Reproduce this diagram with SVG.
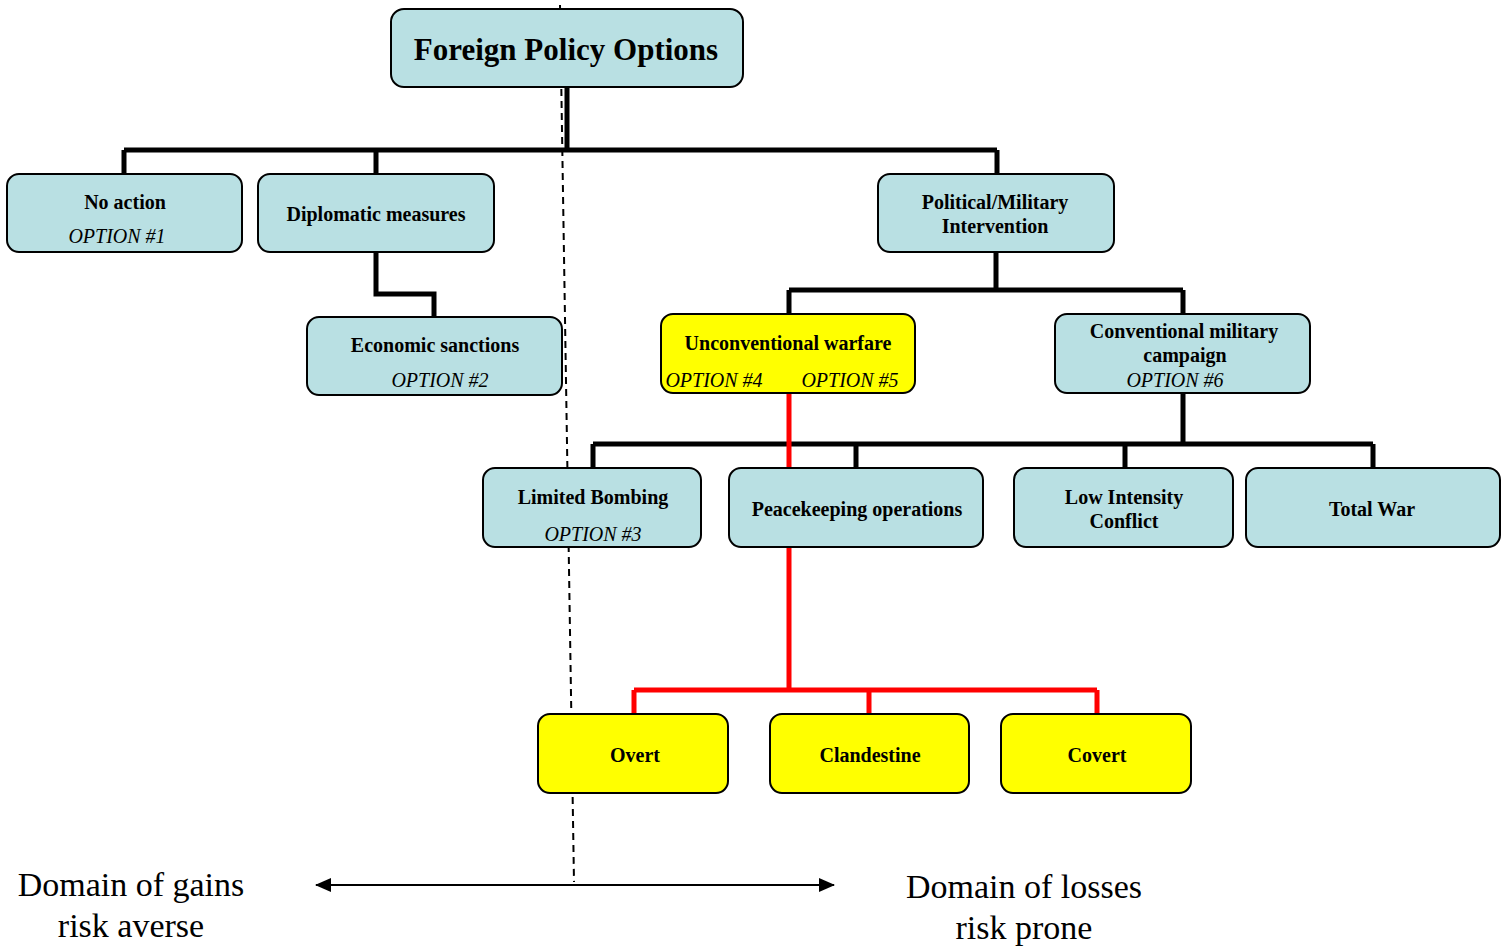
<svg xmlns="http://www.w3.org/2000/svg" width="1502" height="948" viewBox="0 0 1502 948">
<defs>
<style>
.b{fill:#b9e0e3;stroke:#000;stroke-width:2}
.y{fill:#ffff00;stroke:#000;stroke-width:2}
.t{font-family:"Liberation Serif","Times New Roman",serif;font-weight:bold;font-size:20px;fill:#000;text-anchor:middle}
.o{font-family:"Liberation Serif","Times New Roman",serif;font-style:italic;font-size:20px;fill:#000;text-anchor:middle}
.d{font-family:"Liberation Serif","Times New Roman",serif;font-size:34px;fill:#000;text-anchor:middle}
.k{fill:none;stroke:#000;stroke-width:5}
.r{fill:none;stroke:#ff0000;stroke-width:5}
</style>
<marker id="ah" viewBox="0 0 16 14" refX="15" refY="7" markerWidth="16" markerHeight="14" markerUnits="userSpaceOnUse" orient="auto-start-reverse">
<path d="M0,0 L16,7 L0,14 z" fill="#000"/>
</marker>
</defs>
<rect width="1502" height="948" fill="#fff"/>
<line x1="560" y1="5" x2="574" y2="882" stroke="#000" stroke-width="2" stroke-dasharray="7,5"/>
<g id="connectors">
<path class="k" d="M567,87 V150 M124,150 H997 M124,150 V174 M376,150 V174 M997,150 V174"/>
<path class="k" d="M376,252 V294 H434 V317"/>
<path class="k" d="M996,252 V290 M789,290 H1183 M789,290 V314 M1183,290 V314"/>
<path class="k" d="M1183,393 V444 M593,444 H1373 M593,444 V468 M856,444 V468 M1125,444 V468 M1373,444 V468"/>
<path class="r" d="M789,393 V468 M789,547 V690 M634,690 H1097 M634,690 V714 M869,690 V714 M1097,690 V714"/>
<line x1="316" y1="885" x2="834" y2="885" stroke="#000" stroke-width="2" marker-start="url(#ah)" marker-end="url(#ah)"/>
</g>
<g id="root"><rect class="b" x="391" y="9" width="352" height="78" rx="13"/><text class="t" x="566" y="60" style="font-size:31px">Foreign Policy Options</text></g>
<g id="noaction"><rect class="b" x="7" y="174" width="235" height="78" rx="12"/><text class="t" x="125" y="209">No action</text><text class="o" x="117" y="243">OPTION #1</text></g>
<g id="diplomatic"><rect class="b" x="258" y="174" width="236" height="78" rx="12"/><text class="t" x="376" y="221">Diplomatic measures</text></g>
<g id="economic"><rect class="b" x="307" y="317" width="255" height="78" rx="12"/><text class="t" x="435" y="352">Economic sanctions</text><text class="o" x="440" y="387">OPTION #2</text></g>
<g id="polmil"><rect class="b" x="878" y="174" width="236" height="78" rx="12"/><text class="t" x="995" y="209">Political/Military</text><text class="t" x="995" y="233">Intervention</text></g>
<g id="unconventional"><rect class="y" x="661" y="314" width="254" height="79" rx="12"/><text class="t" x="788" y="350">Unconventional warfare</text><text class="o" x="714" y="387">OPTION #4</text><text class="o" x="850" y="387">OPTION #5</text></g>
<g id="conventional"><rect class="b" x="1055" y="314" width="255" height="79" rx="12"/><text class="t" x="1184" y="338">Conventional military</text><text class="t" x="1185" y="362">campaign</text><text class="o" x="1175" y="387">OPTION #6</text></g>
<g id="limited"><rect class="b" x="483" y="468" width="218" height="79" rx="12"/><text class="t" x="593" y="504">Limited Bombing</text><text class="o" x="593" y="541">OPTION #3</text></g>
<g id="peacekeeping"><rect class="b" x="729" y="468" width="254" height="79" rx="12"/><text class="t" x="857" y="516">Peacekeeping operations</text></g>
<g id="lowintensity"><rect class="b" x="1014" y="468" width="219" height="79" rx="12"/><text class="t" x="1124" y="504">Low Intensity</text><text class="t" x="1124" y="528">Conflict</text></g>
<g id="totalwar"><rect class="b" x="1246" y="468" width="254" height="79" rx="12"/><text class="t" x="1372" y="516">Total War</text></g>
<g id="overt"><rect class="y" x="538" y="714" width="190" height="79" rx="12"/><text class="t" x="635" y="762">Overt</text></g>
<g id="clandestine"><rect class="y" x="770" y="714" width="199" height="79" rx="12"/><text class="t" x="870" y="762">Clandestine</text></g>
<g id="covert"><rect class="y" x="1001" y="714" width="190" height="79" rx="12"/><text class="t" x="1097" y="762">Covert</text></g>
<g id="labels">
<text class="d" x="131" y="896">Domain of gains</text>
<text class="d" x="131" y="937">risk averse</text>
<text class="d" x="1024" y="898">Domain of losses</text>
<text class="d" x="1024" y="939">risk prone</text>
</g>
</svg>
